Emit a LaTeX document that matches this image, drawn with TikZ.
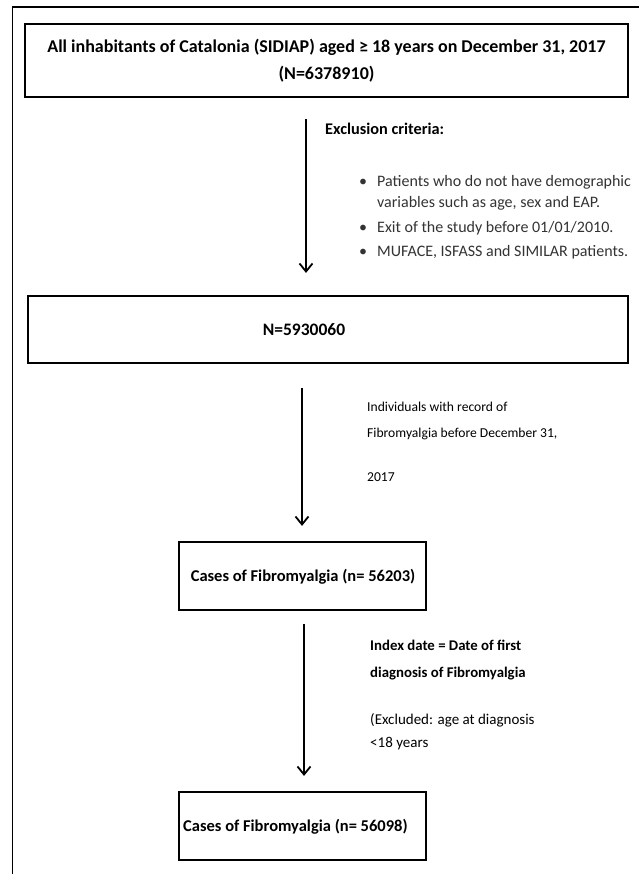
\documentclass[tikz,border=0pt]{standalone}
\usepackage{fontspec}
\setmainfont{Carlito}
\usetikzlibrary{arrows.meta}
\begin{document}
\begin{tikzpicture}[x=1pt,y=-1pt,
 box/.style={draw, line width=2.2pt, inner sep=0pt},
 boxtxt/.style={inner sep=0pt, align=center, font=\bfseries\fontsize{16.5}{20}\selectfont},
 arr/.style={line width=1.8pt, -{Straight Barb[length=8pt,width=13pt,line width=1.8pt]}},
 lab/.style={anchor=base west, inner sep=0pt, align=left},
 bul/.style={lab, text=black!80, font=\fontsize{16}{20}\selectfont},
 note/.style={lab, font=\fontsize{13.6}{16}\selectfont},
 bnote/.style={lab, font=\bfseries\fontsize{14.8}{18}\selectfont},
 enote/.style={lab, font=\fontsize{15}{18}\selectfont}
]
\useasboundingbox (0,0) rectangle (639,874);
\draw[line width=1.3pt] (12.5,874) -- (12.5,7) -- (639,7);
% boxes
\node[box, minimum width=603pt, minimum height=73pt] (b1) at (326.5,60.5) {};
\node[boxtxt, font=\bfseries\fontsize{18}{27}\selectfont] (t1) at (b1.center)
  {All inhabitants of Catalonia (SIDIAP) aged ≥ 18 years on December 31, 2017\\(N=6378910)};
\node[box, minimum width=600pt, minimum height=67pt] (b2) at (328,329.5) {};
\node[boxtxt, font=\bfseries\fontsize{17.5}{20}\selectfont] (t2) at (304,329.5) {N=5930060};
\node[box, minimum width=247pt, minimum height=68pt] (b3) at (302.5,576) {};
\node[boxtxt] (t3) at (303,577) {Cases of Fibromyalgia (n= 56203)};
\node[box, minimum width=247pt, minimum height=68pt] (b4) at (302.5,826) {};
\node[boxtxt, anchor=west] (t4) at (183,827) {Cases of Fibromyalgia (n= 56098)};
% arrow x positions
\coordinate (x1) at (306,0);
\coordinate (x2) at (302,0);
\coordinate (x3) at (304,0);
\draw[arr, shorten <=21pt, shorten >=22pt] (b1.south -| x1) -- (b2.north -| x1);
\draw[arr, shorten <=24pt, shorten >=15pt] (b2.south -| x2) -- (b3.north -| x2);
\draw[arr, shorten <=13pt, shorten >=15pt] (b3.south -| x3) -- (b4.north -| x3);
% exclusion criteria
\node[lab, font=\bfseries\fontsize{16.3}{18}\selectfont] (ex) at (325,135) {Exclusion criteria:};
\node[bul] (d1) at (359,187) {•};
\node[bul] (l1) at (377,187) {Patients who do not have demographic};
\node[bul] (l1b) at (377,208) {variables such as age, sex and EAP.};
\node[bul] (d2) at (359,233) {•};
\node[bul] (l2) at (377,233) {Exit of the study before 01/01/2010.};
\node[bul] (d3) at (359,257) {•};
\node[bul] (l3) at (377,257) {MUFACE, ISFASS and SIMILAR patients.};
% individuals
\node[note] (i1) at (367,411) {Individuals with record of};
\node[note] (i2) at (367,437) {Fibromyalgia before December 31,};
\node[note] (i3) at (367,481) {2017};
% index date
\node[bnote] (n1) at (370,650) {Index date = Date of first};
\node[bnote] (n2) at (370,677) {diagnosis of Fibromyalgia};
\node[enote] (n3) at (370,724) {(Excluded: age at diagnosis};
\node[enote] (n4) at (370,747) {<18 years};
\end{tikzpicture}
\end{document}
